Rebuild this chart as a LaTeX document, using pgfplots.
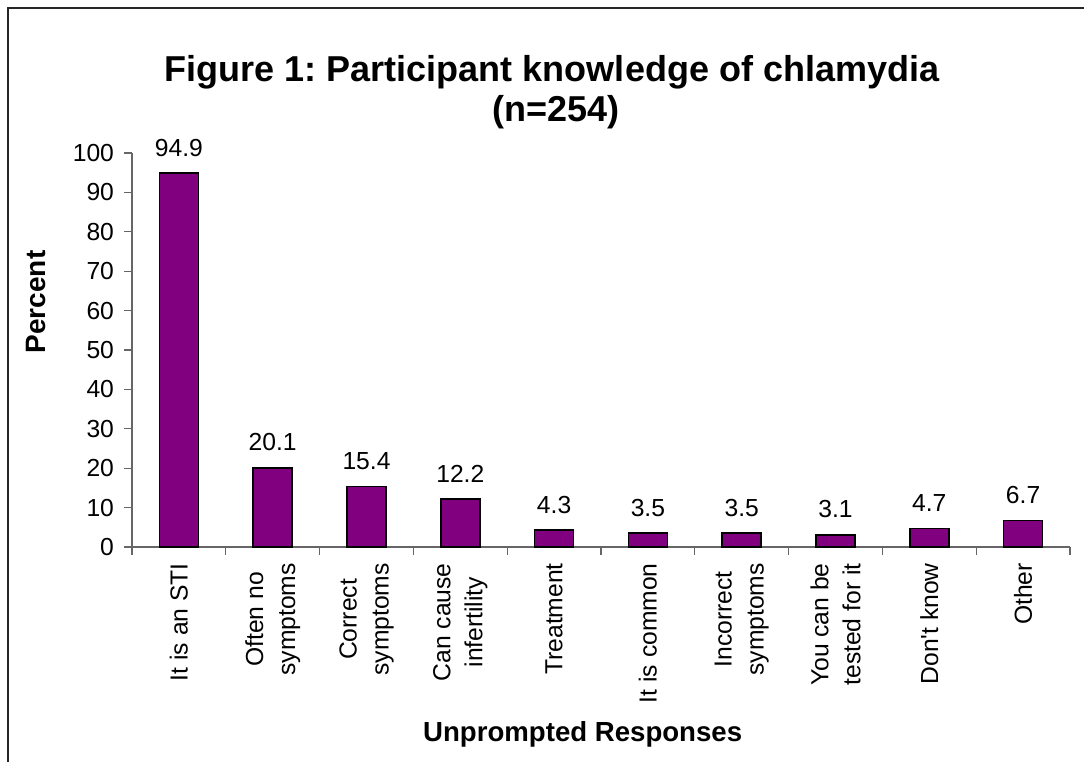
\documentclass[border=0pt]{standalone}
\usepackage{pgfplots}
\pgfplotsset{compat=1.18}
\usepackage{fontspec}
\setmainfont{Liberation Sans}
\definecolor{barpurple}{RGB}{128,0,128}
\frenchspacing

\begin{document}
\begin{tikzpicture}
% page = 1084 x 762 px, 1px = 0.75pt, origin at top-left
\useasboundingbox (0,0) rectangle (813pt,-571.5pt);
\draw[line width=1.5pt,black!85] (6pt,-575pt) -- (6pt,-6pt) -- (815pt,-6pt);

\node[anchor=base,font=\fontsize{27}{32}\selectfont\bfseries] at (414pt,-61pt) {Figure 1: Participant knowledge of chlamydia};
\node[anchor=base,font=\fontsize{27}{32}\selectfont\bfseries] at (417pt,-91.5pt) {(n=254)};

\begin{axis}[
  at={(99pt,-410.25pt)}, anchor=south west,
  scale only axis, width=703.5pt, height=295.5pt,
  xmin=-0.5, xmax=9.5, ymin=0, ymax=100,
  axis x line*=bottom, axis y line*=left,
  axis line style={black!60, line width=0.8pt},
  ytick={0,10,...,100},
  xtick={0,...,9},
  minor xtick={-0.5,0.5,...,9.5},
  major x tick style={draw=none},
  tick style={black!60, line width=0.8pt},
  tick align=outside,
  major tick length=6pt, minor tick length=6pt,
  /pgf/number format/assume math mode=true,
  ticklabel style={font=\fontsize{18.5}{24}\selectfont},
  yticklabel shift=4pt,
  xticklabels={It is an STI,Often no\\symptoms,Correct\\symptoms,Can cause\\infertility,Treatment,It is common,Incorrect\\symptoms,You can be\\tested for it,Don\textquotesingle t know,Other},
  xticklabel style={rotate=90, anchor=east, align=center, inner sep=0pt},
  xticklabel shift=6pt,
  ybar, bar width=29.25pt,
  nodes near coords,
  nodes near coords style={font=\fontsize{18.5}{22}\selectfont, inner sep=0pt, yshift=12pt,
    /pgf/number format/.cd, fixed, fixed zerofill, precision=1},
  clip=false,
]
\addplot[fill=barpurple, draw=black, line width=1.2pt] coordinates {
  (0,94.9) (1,20.1) (2,15.4) (3,12.2) (4,4.3) (5,3.5) (6,3.5) (7,3.1) (8,4.7) (9,6.7)
};
\end{axis}

\node[rotate=90,font=\fontsize{21}{25}\selectfont\bfseries] at (27pt,-226.5pt) {Percent};
\node[font=\fontsize{20.7}{25}\selectfont\bfseries] at (437pt,-551pt) {Unprompted Responses};
\end{tikzpicture}
\end{document}
